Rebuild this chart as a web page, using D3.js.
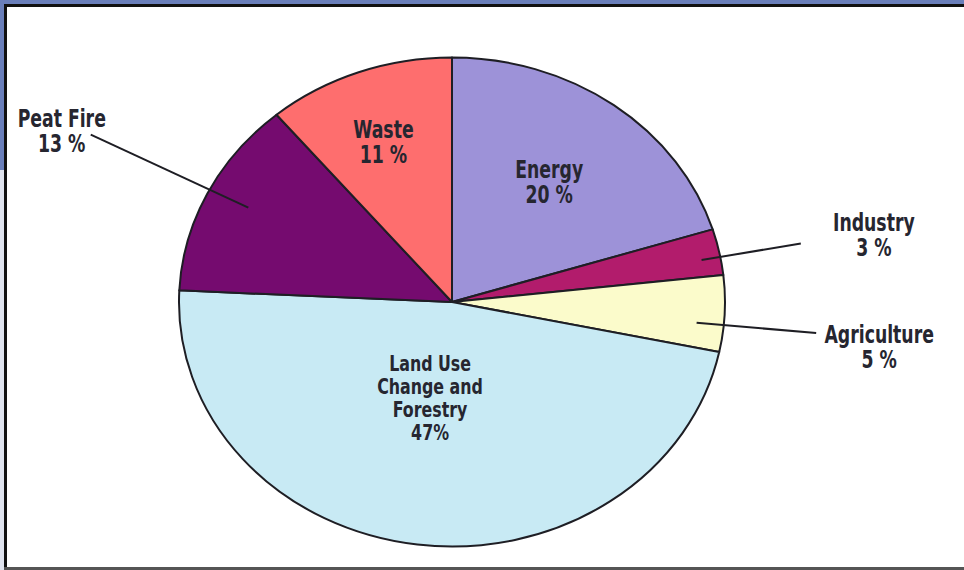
<!DOCTYPE html>
<html>
<head>
<meta charset="utf-8">
<script src="https://cdn.jsdelivr.net/npm/d3@7"></script>
<style>
	html, body { margin: 0; padding: 0; background: #fff; }
	svg { display: block; }
	text { font-family: 'DejaVu Sans Condensed', 'Liberation Sans Narrow', sans-serif; font-weight: bold; fill: #262630; }
</style>
</head>
<body>
<svg id="chart" width="964" height="570"></svg>
<script>

// data, clockwise from 12 o'clock
var categories = ['Energy', 'Industry', 'Agriculture', 'Land Use\nChange and\nForestry', 'Peat Fire', 'Waste'];
var values = [20, 3, 5, 47, 13, 11];
var pctLabels = ['20 %', '3 %', '5 %', '47%', '13 %', '11 %'];
var colors = ['#9d92d8', '#b21c6c', '#fbfbcb', '#c8eaf4', '#750b6f', '#fe6e6e'];

// label placement (relative to slice, in units of the radius)
var inside = {
	'Energy': { r: 0.58, da: 1.5 },
	'Waste': { r: 0.67, da: -2 },
	'Land Use\nChange and\nForestry': { r: 0.43, da: 3.5, size: 22, lh: 23 }
};
var outside = {
	'Peat Fire': { r0: 0.84, r1: 1.49, da: 1, dx: -29, dy: 5 },
	'Industry': { r0: 0.93, r1: 1.30, da: 1.2, dx: 73, dy: 0 },
	'Agriculture': { r0: 0.9, r1: 1.34, da: 2.7, dx: 63, dy: 23 }
};

var W = 964, H = 570;
var cx = 452, cy = 302, rx = 273, ry = 244.5;
var squeeze = 0.8;

var svg = d3.select('#chart');

// frame
svg.append('rect').attr('width', W).attr('height', H).attr('fill', '#fff');
svg.append('rect').attr('x', 0).attr('y', 0).attr('width', W).attr('height', 4).attr('fill', '#6a7fba');
svg.append('rect').attr('x', 0).attr('y', 0).attr('width', 4).attr('height', 170).attr('fill', '#6a7fba');
svg.append('rect').attr('x', 0).attr('y', 170).attr('width', 4).attr('height', H - 170).attr('fill', '#dfe3ee');
svg.append('rect').attr('x', 4).attr('y', 4).attr('width', W - 4).attr('height', 3).attr('fill', '#111');
svg.append('rect').attr('x', 4).attr('y', 4).attr('width', 3).attr('height', H - 4).attr('fill', '#111');
svg.append('rect').attr('x', 4).attr('y', 567).attr('width', W - 4).attr('height', 3).attr('fill', '#555');

var rows = categories.map(function(c, i) {
	return { name: c, value: values[i], pct: pctLabels[i], color: colors[i] };
});

var pie = d3.pie().sort(null).value(function(d) { return d.value; });
var arc = d3.arc().innerRadius(0).outerRadius(rx);
var arcs = pie(rows);

var g = svg.append('g').attr('transform', 'translate({0},{1}) scale(1,{2})'.replace('{0}', cx).replace('{1}', cy).replace('{2}', ry / rx));

g.selectAll('path')
	.data(arcs)
	.enter()
	.append('path')
	.attr('d', arc)
	.attr('fill', function(d) { return d.data.color; })
	.attr('stroke', '#1e1e24')
	.attr('stroke-width', 2)
	.attr('stroke-linejoin', 'round')
	.attr('vector-effect', 'non-scaling-stroke');

function point(angle, r) {
	return [cx + Math.sin(angle) * rx * r, cy - Math.cos(angle) * ry * r];
}

function block(x, y, lines, size, lh) {
	size = size || 24;
	lh = lh || 25;
	var t = svg.append('text')
		.attr('text-anchor', 'middle')
		.attr('transform', 'translate(' + x + ',' + y + ') scale(' + squeeze + ',1)')
		.style('font-size', size + 'px');
	var y0 = -(lines.length - 1) * lh / 2;
	lines.forEach(function(s, i) {
		t.append('tspan').attr('x', 0).attr('y', y0 + i * lh).text(s);
	});
}

var deg = Math.PI / 180;

arcs.forEach(function(d) {
	var mid = (d.startAngle + d.endAngle) / 2;
	var lines = d.data.name.split('\n').concat([d.data.pct]);
	var o;

	if (inside[d.data.name]) {
		o = inside[d.data.name];
		var p = point(mid + o.da * deg, o.r);
		block(p[0], p[1], lines, o.size, o.lh);
		return;
	}

	o = outside[d.data.name];
	var a = point(mid + o.da * deg, o.r0);
	var b = point(mid + o.da * deg, o.r1);
	svg.append('line')
		.attr('x1', a[0]).attr('y1', a[1])
		.attr('x2', b[0]).attr('y2', b[1])
		.attr('stroke', '#1e1e24')
		.attr('stroke-width', 2);
	block(b[0] + o.dx, b[1] + o.dy, lines);
});

</script>
</body>
</html>
